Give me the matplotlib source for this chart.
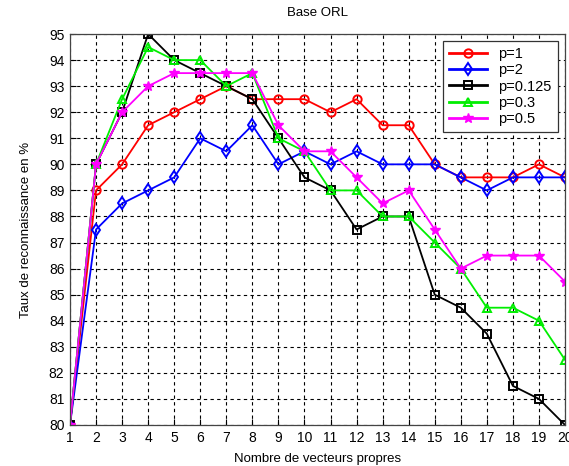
import matplotlib
matplotlib.use("Agg")
import matplotlib.pyplot as plt

plt.rcParams['font.family'] = ['Liberation Sans', 'DejaVu Sans']

x = list(range(1, 21))

p1 = [80, 89, 90, 91.5, 92, 92.5, 93, 92.5, 92.5, 92.5,
      92, 92.5, 91.5, 91.5, 90, 89.5, 89.5, 89.5, 90, 89.5]
p2 = [80, 87.5, 88.5, 89, 89.5, 91, 90.5, 91.5, 90, 90.5,
      90, 90.5, 90, 90, 90, 89.5, 89, 89.5, 89.5, 89.5]
p0125 = [80, 90, 92, 95, 94, 93.5, 93, 92.5, 91, 89.5,
         89, 87.5, 88, 88, 85, 84.5, 83.5, 81.5, 81, 80]
p03 = [80, 90, 92.5, 94.5, 94, 94, 93, 93.5, 91, 90.5,
       89, 89, 88, 88, 87, 86, 84.5, 84.5, 84, 82.5]
p05 = [80, 90, 92, 93, 93.5, 93.5, 93.5, 93.5, 91.5, 90.5,
       90.5, 89.5, 88.5, 89, 87.5, 86, 86.5, 86.5, 86.5, 85.5]

fig = plt.figure(figsize=(5.69, 4.66), dpi=100)
ax = fig.add_axes([0.123, 0.088, 0.870, 0.839])

kw = dict(linewidth=1.3, markersize=6, markerfacecolor='none', markeredgewidth=1.4)
ax.plot(x, p1, '-o', color='red', label='p=1', **kw)
ax.plot(x, p2, '-d', color='blue', label='p=2', **kw)
ax.plot(x, p0125, '-s', color='black', label='p=0.125', **kw)
ax.plot(x, p03, '-^', color='#00ee00', label='p=0.3', **kw)
ax.plot(x, p05, '-*', color='magenta', label='p=0.5', linewidth=1.3,
        markersize=7, markeredgewidth=1.0)

ax.set_xlim(1, 20)
ax.set_ylim(80, 95)
ax.set_xticks(x)
ax.set_yticks(range(80, 96))
ax.grid(True, color='black', linestyle=(0, (3, 3)), linewidth=0.8)
ax.tick_params(direction='in', labelsize=10, length=4, pad=4)
for s in ax.spines.values():
    s.set_linewidth(0.9)
    s.set_color('#444444')

ax.set_title('Base ORL', fontsize=9.5, pad=13)
ax.set_xlabel('Nombre de vecteurs propres', fontsize=9.5, labelpad=6)
ax.set_ylabel('Taux de reconnaissance en %', fontsize=9.5, labelpad=12)

leg = ax.legend(loc='upper right', fontsize=10.5, fancybox=False, framealpha=1,
                edgecolor='#333333', handlelength=2.6, borderaxespad=0.5,
                labelspacing=0.15, handletextpad=0.8, borderpad=0.4)
leg.get_frame().set_linewidth(0.9)
for line in leg.get_lines():
    line.set_linewidth(2.0)

fig.savefig('out.png', dpi=100)
